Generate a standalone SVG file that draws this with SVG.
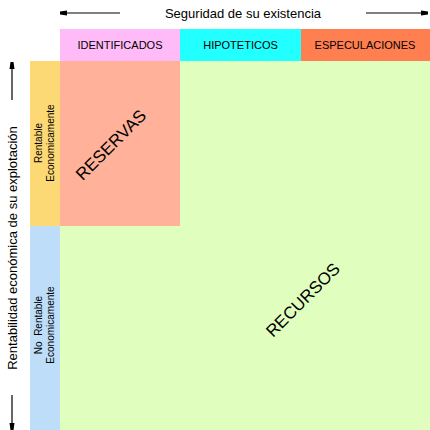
<svg xmlns="http://www.w3.org/2000/svg" width="430" height="430" viewBox="0 0 430 430">
<style>
text{font-family:"Liberation Sans",Arial,sans-serif;fill:#000}
.h{font-size:11px;text-anchor:middle}
.s{font-size:10px;text-anchor:middle}
.big{font-size:17px;text-anchor:middle}
.t{font-size:13px;text-anchor:middle}
.ln{stroke:#000;stroke-width:1.2;fill:none}
</style>
<defs>
<marker id="ah" markerWidth="8" markerHeight="6" refX="7" refY="3" orient="auto" markerUnits="userSpaceOnUse">
<path d="M0,0.5 L7,1.5 L7,4.5 L0,5.5 Z" fill="#000"/>
</marker>
</defs>
<rect width="430" height="430" fill="#fff"/>
<g id="fondo-recursos"><rect x="60" y="61" width="370" height="369" fill="#E0FFBE"/></g>
<g id="identificados"><rect x="60" y="29" width="120" height="32" fill="#FFBBF7"/><text class="h" x="120" y="49">IDENTIFICADOS</text></g>
<g id="hipoteticos"><rect x="180" y="29" width="121" height="32" fill="#22FFFF"/><text class="h" x="240.5" y="49">HIPOTETICOS</text></g>
<g id="especulaciones"><rect x="301" y="29" width="129" height="32" fill="#FF7F50"/><text class="h" x="365" y="49">ESPECULACIONES</text></g>
<g id="rentable"><rect x="30" y="61" width="30" height="165" fill="#FCD975"/><text class="s" transform="translate(42,143) rotate(-90)">Rentable</text><text class="s" transform="translate(54,143) rotate(-90)">Economicamente</text></g>
<g id="no-rentable"><rect x="30" y="226" width="30" height="204" fill="#BDDDF8"/><text class="s" xml:space="preserve" style="white-space:pre" transform="translate(42,325) rotate(-90)">No  Rentable</text><text class="s" transform="translate(54,325) rotate(-90)">Economicamente</text></g>
<g id="reservas"><rect x="60" y="61" width="120" height="165" fill="#FFB299"/><text class="big" transform="translate(115,149) rotate(-45)">RESERVAS</text></g>
<g id="recursos"><text class="big" transform="translate(307,304) rotate(-45)">RECURSOS</text></g>
<g id="titulo-x"><text class="t" x="243" y="18">Seguridad de su existencia</text></g>
<g id="titulo-y"><text class="t" transform="translate(17,248) rotate(-90)">Rentabilidad económica de su explotación</text></g>
<g id="conectores">
<line class="ln" x1="120" y1="13" x2="60" y2="13" marker-end="url(#ah)"/>
<line class="ln" x1="366" y1="13" x2="428" y2="13" marker-end="url(#ah)"/>
<line class="ln" x1="12" y1="100" x2="12" y2="62" marker-end="url(#ah)"/>
<line class="ln" x1="12" y1="395" x2="12" y2="430" marker-end="url(#ah)"/>
</g>
</svg>
